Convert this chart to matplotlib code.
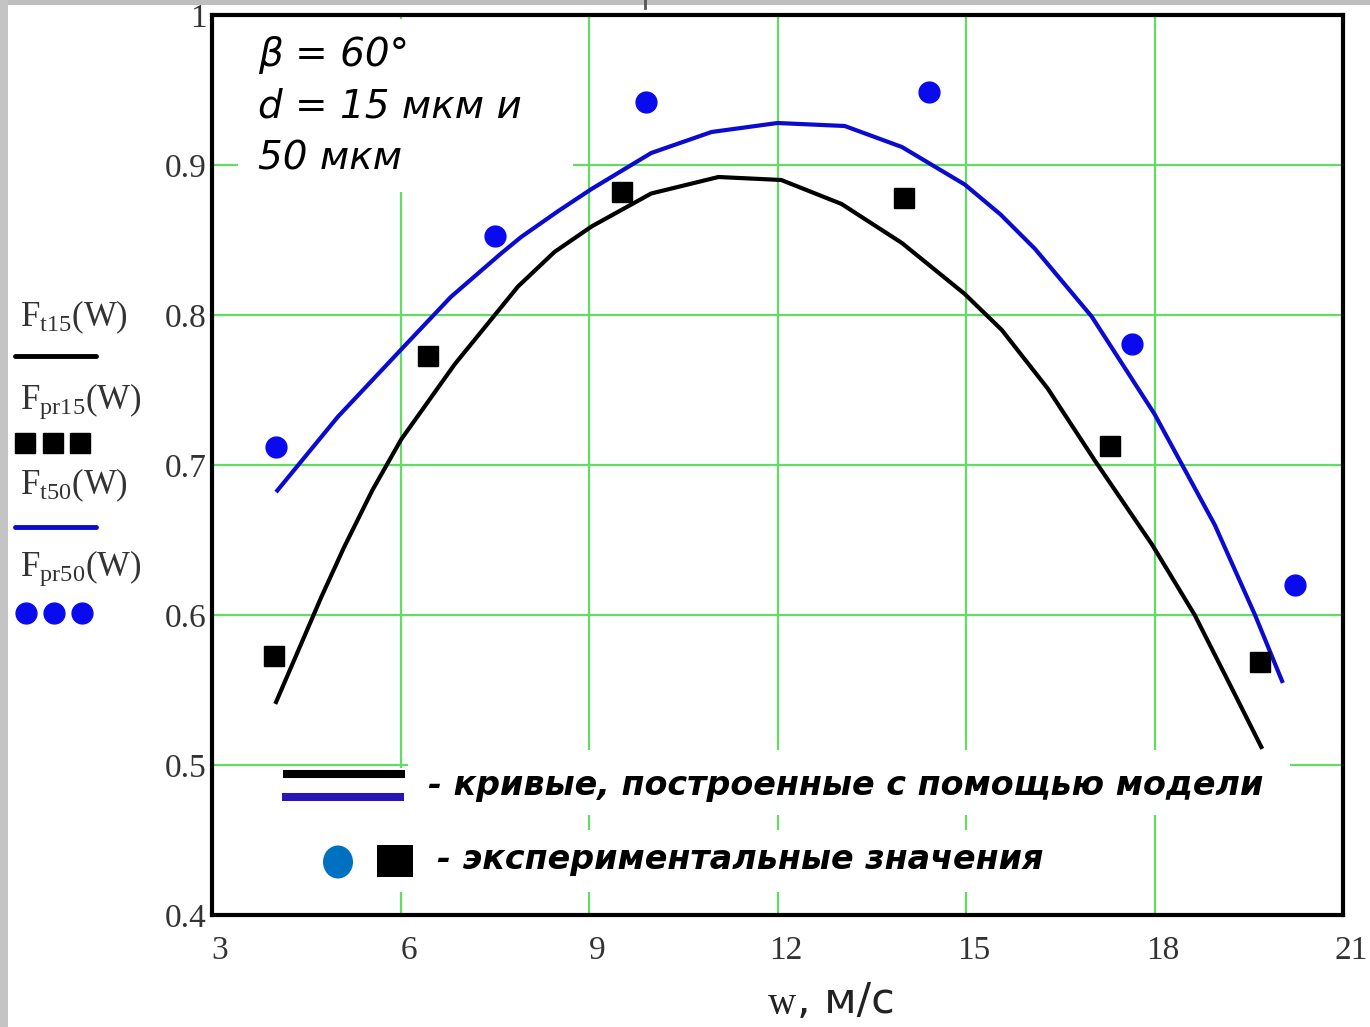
import matplotlib
matplotlib.use("Agg")
import matplotlib.pyplot as plt
from matplotlib.patches import Rectangle, Ellipse
from matplotlib.transforms import ScaledTranslation

# model curves
w_t15 = [4.02, 4.74, 5.1, 5.55, 6.01, 6.86, 7.87, 8.45, 9.04, 9.99, 11.06, 12.06, 13.02,
         13.98, 14.98, 15.57, 16.3, 17.05, 17.96, 18.64, 19.28, 19.7]
F_t15 = [0.542, 0.612, 0.645, 0.683, 0.717, 0.767, 0.819, 0.842, 0.859, 0.881, 0.892, 0.890,
         0.874, 0.848, 0.814, 0.790, 0.751, 0.703, 0.647, 0.600, 0.547, 0.512]
w_t50 = [4.04, 5.0, 6.01, 6.8, 7.6, 7.92, 8.5, 9.04, 9.99, 10.95, 12.0, 13.07, 13.98, 14.98,
         15.55, 16.1, 17.0, 18.0, 18.96, 19.6, 20.03]
F_t50 = [0.683, 0.732, 0.777, 0.812, 0.841, 0.852, 0.869, 0.884, 0.908, 0.922, 0.928, 0.926,
         0.912, 0.887, 0.867, 0.844, 0.799, 0.734, 0.660, 0.600, 0.556]

# experimental points
w_pr15 = [3.99, 6.44, 9.53, 14.02, 17.29, 19.68]
F_pr15 = [0.573, 0.773, 0.882, 0.878, 0.713, 0.569]
w_pr50 = [4.02, 7.51, 9.91, 14.41, 17.64, 20.24]
F_pr50 = [0.712, 0.853, 0.942, 0.949, 0.781, 0.620]

x_ticks = [3, 6, 9, 12, 15, 18, 21]
x_ticklabels = ["3", "6", "9", "12", "15", "18", "21"]
y_ticks = [0.4, 0.5, 0.6, 0.7, 0.8, 0.9, 1.0]
y_ticklabels = ["0.4", "0.5", "0.6", "0.7", "0.8", "0.9", "1"]

mc_labels = [r"$\mathregular{F_{t15}(W)}$", r"$\mathregular{F_{pr15}(W)}$",
             r"$\mathregular{F_{t50}(W)}$", r"$\mathregular{F_{pr50}(W)}$"]
note_lines = ["β = 60°", "d = 15 мкм и", "50 мкм"]
leg_text1 = "- кривые, построенные с помощью модели"
leg_text2 = "- экспериментальные значения"

plt.rcParams['font.family'] = ['DejaVu Sans']

W, H = 1370, 1027
fig = plt.figure(figsize=(W / 100, H / 100), dpi=100)
fig.patch.set_facecolor('white')

ax = fig.add_axes([212 / W, 1 - 915 / H, 1131 / W, 900 / H])
ax.set_xlim(3, 21)
ax.set_ylim(0.4, 1.0)
ax.set_xticks(x_ticks)
ax.set_xticklabels(x_ticklabels)
ax.set_yticks(y_ticks)
ax.set_yticklabels(y_ticklabels)
ax.grid(True, color='#62dc62', lw=1.6)
ax.set_axisbelow(True)
for s in ax.spines.values():
    s.set_linewidth(3)
ax.tick_params(length=0, labelsize=24, labelcolor='#333333')
ax.tick_params(axis='x', pad=15)
ax.tick_params(axis='y', pad=4)
for lbl in ax.get_xticklabels() + ax.get_yticklabels():
    lbl.set_fontfamily('Liberation Serif')
for lbl in ax.get_xticklabels():
    lbl.set_transform(lbl.get_transform() + ScaledTranslation(0.08, 0, fig.dpi_scale_trans))

ax.plot(w_t15, F_t15, color='black', lw=3, solid_joinstyle='round', zorder=3)
ax.plot(w_t50, F_t50, color='#0a0ad0', lw=3, solid_joinstyle='round', zorder=3)
ax.plot(w_pr15, F_pr15, 's', color='black', ms=15, zorder=4)
ax.plot(w_pr50, F_pr50, 'o', color='#0a0aee', ms=15, zorder=4)

# overlay in pixel coordinates for the decorations
ov = fig.add_axes([0, 0, 1, 1], zorder=5)
ov.set_xlim(0, W)
ov.set_ylim(H, 0)
ov.axis('off')
ov.patch.set_alpha(0)

ov.add_patch(Rectangle((0, 0), W, 5, color='#bebebe', lw=0))
ov.add_patch(Rectangle((0, 0), 8, H, color='#c4c4c4', lw=0))
ov.plot([645, 645], [0, 8], color='#555555', lw=2)

# white boxes
ov.add_patch(Rectangle((238, 19), 335, 173, color='white', lw=0))
ov.add_patch(Rectangle((408, 750), 882, 65, color='white', lw=0))
ov.add_patch(Rectangle((300, 768), 120, 124, color='white', lw=0))
ov.add_patch(Rectangle((420, 830), 625, 62, color='white', lw=0))

for i, line in enumerate(note_lines):
    ov.text(258, 55 + 52 * i, line, fontsize=28, style='italic', va='center', color='black')

# bottom legend
ov.plot([283, 405], [774, 774], color='black', lw=5.8, solid_capstyle='butt')
ov.plot([282, 404], [797, 797], color='#2a16b8', lw=5.8, solid_capstyle='butt')
ov.add_patch(Ellipse((338, 862), 30, 33, color='#0070c0', lw=0))
ov.add_patch(Rectangle((377, 845), 36, 32, color='black', lw=0))
ov.text(428, 785, leg_text1, fontsize=24, weight='bold', style='italic', va='center')
ov.text(437, 860, leg_text2, fontsize=24, weight='bold', style='italic', va='center')

# Mathcad style legend at the left
baselines = [326, 409, 494, 576]
for lab, yb in zip(mc_labels, baselines):
    ov.text(20, yb, lab, fontsize=25, fontfamily='Liberation Serif', color='#333333', va='baseline')
ov.plot([15, 96], [356, 356], color='black', lw=3.5, solid_capstyle='round')
ov.plot([15, 96], [527, 527], color='#0a0ad0', lw=3.5, solid_capstyle='round')
ov.plot([25, 53, 80], [443, 443, 443], 's', color='black', ms=15)
ov.plot([26, 54, 82], [613, 613, 613], 'o', color='#0a0aee', ms=15)

# x label
ov.text(768, 1005, "w", fontsize=28, fontfamily='Liberation Serif', va='center', color='#222222')
ov.text(797, 1001, ", м/с", fontsize=31, va='center', color='#222222')

fig.savefig("out.png", dpi=100)
